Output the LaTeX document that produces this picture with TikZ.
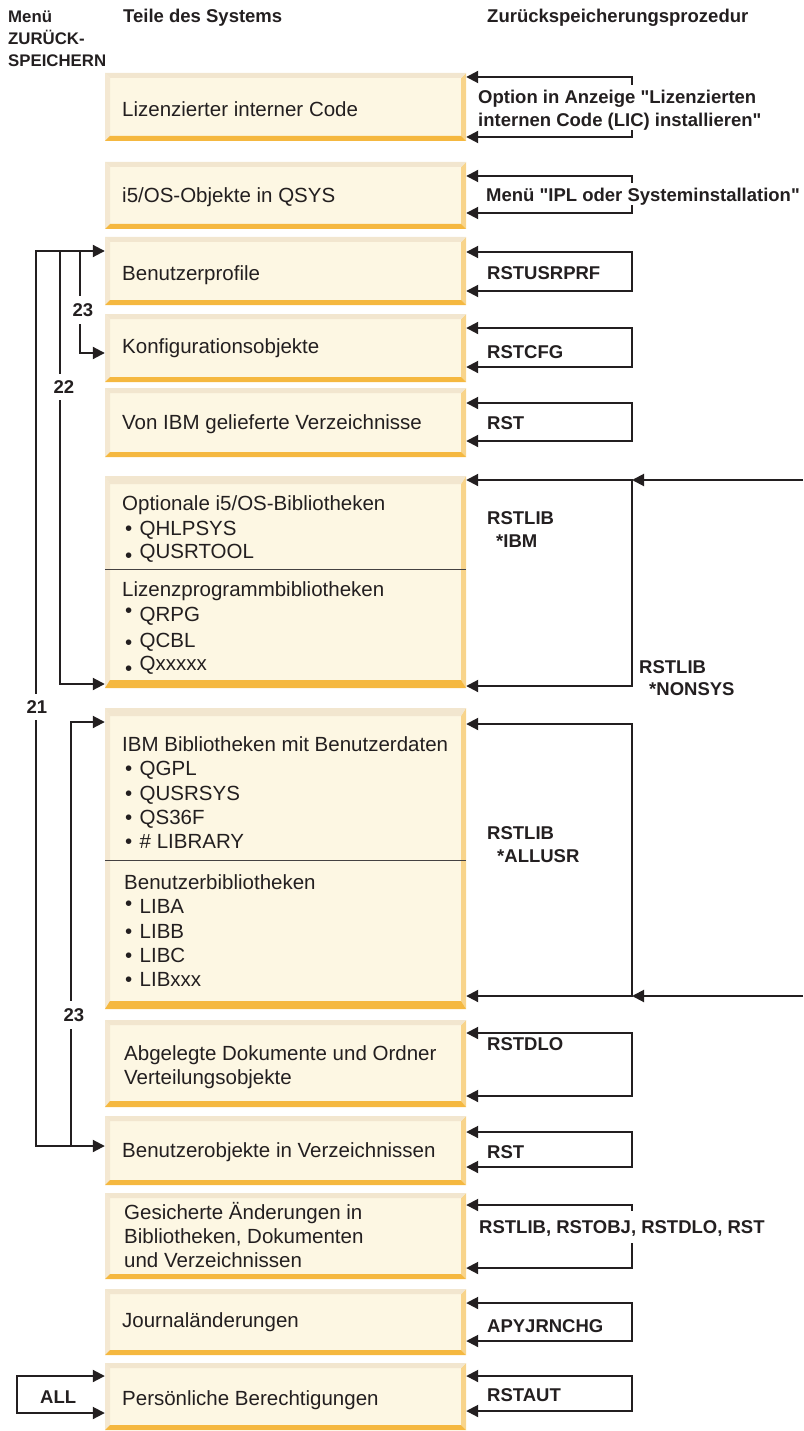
\documentclass[tikz,border=0pt]{standalone}
\usepackage{fontspec}
\setmainfont{Liberation Sans}[Ligatures=TeXOff]
\usetikzlibrary{arrows.meta}

\definecolor{ink}{HTML}{231F20}
\definecolor{boxfill}{HTML}{FDF7E3}
\definecolor{bevtop}{HTML}{F2E6CF}
\definecolor{bevleft}{HTML}{F4E8D2}
\definecolor{bevright}{HTML}{F8D48B}
\definecolor{bevbot}{HTML}{F5B840}

% straight double quote
\newcommand\dq{\symbol{34}}
% bullet item: dot (optionally raised) followed by the entry
\newcommand\itm[2]{\makebox[14.5pt][l]{\raisebox{#1}{\textbullet}}#2}

\tikzset{
  bevel top/.store in=\bevTop, bevel top=5pt,
  bevel bottom/.store in=\bevBot, bevel bottom=5pt,
  stage/.style={rectangle, inner sep=0pt, minimum width=361pt, minimum height=#1,
    fill=boxfill,
    path picture={
      \fill[bevleft] (path picture bounding box.north west) -- (path picture bounding box.south west)
        -- ([xshift=5pt,yshift=\bevBot]path picture bounding box.south west)
        -- ([xshift=5pt,yshift=-\bevTop]path picture bounding box.north west) -- cycle;
      \fill[bevright] (path picture bounding box.north east) -- (path picture bounding box.south east)
        -- ([xshift=-5pt,yshift=\bevBot]path picture bounding box.south east)
        -- ([xshift=-5pt,yshift=-\bevTop]path picture bounding box.north east) -- cycle;
      \fill[bevtop] (path picture bounding box.north west) -- (path picture bounding box.north east)
        -- ([xshift=-5pt,yshift=-\bevTop]path picture bounding box.north east)
        -- ([xshift=5pt,yshift=-\bevTop]path picture bounding box.north west) -- cycle;
      \fill[bevbot] (path picture bounding box.south west) -- (path picture bounding box.south east)
        -- ([xshift=-5pt,yshift=\bevBot]path picture bounding box.south east)
        -- ([xshift=5pt,yshift=\bevBot]path picture bounding box.south west) -- cycle;
    }},
  boxtxt/.style={anchor=base west, inner sep=0pt, text=ink,
    font=\fontsize{20.5}{24}\selectfont},
  lbl/.style={anchor=base west, inner sep=0pt, text=ink,
    font=\fontsize{18.5}{22}\bfseries\selectfont},
  menuhead/.style={lbl, font=\fontsize{16.8}{20}\bfseries\selectfont},
  num/.style={fill=white, inner xsep=1pt, inner ysep=7pt, text=ink,
    font=\fontsize{18.5}{22}\bfseries\selectfont},
  conn/.style={draw=ink, line width=2pt},
  >={Triangle[length=12pt,width=12pt]},
  divider/.style={draw=ink!85, line width=0.9pt},
}

\begin{document}
\begin{tikzpicture}[x=1pt,y=-1pt]
\useasboundingbox (0,0) rectangle (803,1431);

% column headings
\node[menuhead] (h1a) at (8,23) {Menü};
\node[menuhead] (h1b) at (8,45) {ZURÜCK-};
\node[menuhead] (h1c) at (8,67) {SPEICHERN};
\node[lbl] (h2) at (123,23) {Teile des Systems};
\node[lbl] (h3) at (487,23) {Zurückspeicherungsprozedur};

% system parts
\node[stage=68pt] (b1) at (285.5,107) {};
\node[stage=67pt] (b2) at (285.5,195.5) {};
\node[stage=68pt] (b3) at (285.5,271) {};
\node[stage=68pt] (b4) at (285.5,348) {};
\node[stage=69pt] (b5) at (285.5,422.5) {};
\node[stage=212pt, bevel top=8pt, bevel bottom=8pt] (b6) at (285.5,582) {};
\node[stage=301pt, bevel top=8pt, bevel bottom=8pt] (b7) at (285.5,858.5) {};
\node[stage=87pt, bevel bottom=6pt] (b8) at (285.5,1063.5) {};
\node[stage=69pt] (b9) at (285.5,1150.5) {};
\node[stage=86pt] (b10) at (285.5,1236) {};
\node[stage=66pt] (b11) at (285.5,1322) {};
\node[stage=67pt] (b12) at (285.5,1396.5) {};

\coordinate (d6) at (0,569);
\coordinate (d7) at (0,860);
\draw[divider] (b6.west |- d6) -- (b6.east |- d6);
\draw[divider] (b7.west |- d7) -- (b7.east |- d7);

% texts of the parts
\node[boxtxt] (t1) at (122,116.5) {Lizenzierter interner Code};
\node[boxtxt] (t2) at (122,202.5) {i5/OS-Objekte in QSYS};
\node[boxtxt] (t3) at (122,280.5) {Benutzerprofile};
\node[boxtxt] (t4) at (122,353.5) {Konfigurationsobjekte};
\node[boxtxt] (t5) at (122,429.5) {Von IBM gelieferte Verzeichnisse};

\node[boxtxt] (t6a) at (122,510.5) {Optionale i5/OS-Bibliotheken};
\node[boxtxt] (t6b) at (125,535.5) {\itm{0pt}{QHLPSYS}};
\node[boxtxt] (t6c) at (125,558.5) {\itm{-4pt}{QUSRTOOL}};
\node[boxtxt] (t6d) at (122,596.5) {Lizenzprogrammbibliotheken};
\node[boxtxt] (t6e) at (125,621.5) {\itm{4pt}{QRPG}};
\node[boxtxt] (t6f) at (125,647.5) {\itm{-1.5pt}{QCBL}};
\node[boxtxt] (t6g) at (125,670.5) {\itm{-5pt}{Qxxxxx}};

\node[boxtxt] (t7a) at (122,751.5) {IBM Bibliotheken mit Benutzerdaten};
\node[boxtxt] (t7b) at (125,775.5) {\itm{0pt}{QGPL}};
\node[boxtxt] (t7c) at (125,800) {\itm{0pt}{QUSRSYS}};
\node[boxtxt] (t7d) at (125,824) {\itm{0pt}{QS36F}};
\node[boxtxt] (t7e) at (125,848) {\itm{0pt}{\# LIBRARY}};
\node[boxtxt] (t7f) at (124,889.5) {Benutzerbibliotheken};
\node[boxtxt] (t7g) at (125,913.5) {\itm{3pt}{LIBA}};
\node[boxtxt] (t7h) at (125,938) {\itm{0pt}{LIBB}};
\node[boxtxt] (t7i) at (125,962) {\itm{0pt}{LIBC}};
\node[boxtxt] (t7j) at (125,986) {\itm{0pt}{LIBxxx}};

\node[boxtxt] (t8a) at (124,1060.5) {Abgelegte Dokumente und Ordner};
\node[boxtxt] (t8b) at (124,1084.5) {Verteilungsobjekte};
\node[boxtxt] (t9) at (122,1157.5) {Benutzerobjekte in Verzeichnissen};
\node[boxtxt] (t10a) at (124,1219.5) {Gesicherte Änderungen in};
\node[boxtxt] (t10b) at (124,1243.5) {Bibliotheken, Dokumenten};
\node[boxtxt] (t10c) at (124,1267.5) {und Verzeichnissen};
\node[boxtxt] (t11) at (122,1327.5) {Journaländerungen};
\node[boxtxt] (t12) at (122,1405.5) {Persönliche Berechtigungen};

% restore procedures (right side)
\coordinate (r1a) at (632,77);   \coordinate (r1ag) at (632,85);
\coordinate (r1b) at (632,137);  \coordinate (r1bg) at (632,130);
\coordinate (r2a) at (632,176);  \coordinate (r2ag) at (632,183);
\coordinate (r2b) at (632,213);  \coordinate (r2bg) at (632,205);
\coordinate (r3a) at (632,252);  \coordinate (r3b) at (632,291);
\coordinate (r4a) at (632,328);  \coordinate (r4b) at (632,367);
\coordinate (r5a) at (632,403);  \coordinate (r5b) at (632,441);
\coordinate (r6a) at (632,480);  \coordinate (r6b) at (632,686);
\coordinate (r7a) at (632,724);  \coordinate (r7b) at (632,996);
\coordinate (r8a) at (632,1033); \coordinate (r8b) at (632,1096);
\coordinate (r9a) at (632,1132); \coordinate (r9b) at (632,1167);
\coordinate (r10a) at (632,1205); \coordinate (r10ag) at (632,1211);
\coordinate (r10b) at (632,1268); \coordinate (r10bg) at (632,1243);
\coordinate (r11a) at (632,1303); \coordinate (r11b) at (632,1341);
\coordinate (r12a) at (632,1376); \coordinate (r12b) at (632,1411);
\coordinate (e6) at (803,480);
\coordinate (e7) at (803,996);

\draw[conn,<-] (b1.east |- r1a) -- (r1a) -- (r1ag);
\draw[conn,<-] (b1.east |- r1b) -- (r1b) -- (r1bg);
\draw[conn,<-] (b2.east |- r2a) -- (r2a) -- (r2ag);
\draw[conn,<-] (b2.east |- r2b) -- (r2b) -- (r2bg);
\draw[conn,<->] (b3.east |- r3a) -- (r3a) -- (r3b) -- (b3.east |- r3b);
\draw[conn,<->] (b4.east |- r4a) -- (r4a) -- (r4b) -- (b4.east |- r4b);
\draw[conn,<->] (b5.east |- r5a) -- (r5a) -- (r5b) -- (b5.east |- r5b);
\draw[conn,<->] (b6.east |- r6a) -- (r6a) -- (r6b) -- (b6.east |- r6b);
\draw[conn,<->] (b7.east |- r7a) -- (r7a) -- (r7b) -- (b7.east |- r7b);
\draw[conn,<->] (b8.east |- r8a) -- (r8a) -- (r8b) -- (b8.east |- r8b);
\draw[conn,<->] (b9.east |- r9a) -- (r9a) -- (r9b) -- (b9.east |- r9b);
\draw[conn,<-] (b10.east |- r10a) -- (r10a) -- (r10ag);
\draw[conn,<-] (b10.east |- r10b) -- (r10b) -- (r10bg);
\draw[conn,<->] (b11.east |- r11a) -- (r11a) -- (r11b) -- (b11.east |- r11b);
\draw[conn,<->] (b12.east |- r12a) -- (r12a) -- (r12b) -- (b12.east |- r12b);
\draw[conn,->] (e6) -- (r6a);
\draw[conn,->] (e7) -- (r7b);

\node[lbl] (p1a) at (478,103.5) {Option in Anzeige \dq Lizenzierten};
\node[lbl] (p1b) at (478,126.5) {internen Code (LIC) installieren\dq};
\node[lbl] (p2) at (486,201.5) {Menü \dq IPL oder Systeminstallation\dq};
\node[lbl] (p3) at (487,279.5) {RSTUSRPRF};
\node[lbl] (p4) at (487,358.5) {RSTCFG};
\node[lbl] (p5) at (487,429.5) {RST};
\node[lbl] (p6a) at (487,524.5) {RSTLIB};
\node[lbl] (p6b) at (496,547.5) {*IBM};
\node[lbl] (p6c) at (639,673.5) {RSTLIB};
\node[lbl] (p6d) at (649,695.5) {*NONSYS};
\node[lbl] (p7a) at (487,839.5) {RSTLIB};
\node[lbl] (p7b) at (497,862.5) {*ALLUSR};
\node[lbl] (p8) at (487,1050.5) {RSTDLO};
\node[lbl] (p9) at (487,1158.5) {RST};
\node[lbl] (p10) at (479,1233.5) {RSTLIB, RSTOBJ, RSTDLO, RST};
\node[lbl] (p11) at (487,1332.5) {APYJRNCHG};
\node[lbl] (p12) at (487,1401.5) {RSTAUT};

% restore menu options (left side)
\coordinate (L21a) at (36,251);  \coordinate (L21b) at (36,1146);
\coordinate (L22a) at (60,251);  \coordinate (L22b) at (60,684);
\coordinate (L23a) at (80,251);  \coordinate (L23b) at (80,353);
\coordinate (L23c) at (71,722);  \coordinate (L23d) at (71,1146);
\coordinate (A1) at (17,1376);   \coordinate (A2) at (17,1413);

\draw[conn,<->] (b3.west |- L21a) -- (L21a) -- (L21b) -- (b9.west |- L21b);
\draw[conn,->] (L22a) -- (L22b) -- (b6.west |- L22b);
\draw[conn,->] (L23a) -- (L23b) -- (b4.west |- L23b);
\draw[conn,<-] (b7.west |- L23c) -- (L23c) -- (L23d);
\draw[conn,<->] (b12.west |- A1) -- (A1) -- (A2) -- (b12.west |- A2);

\node[num] (n23a) at (83,310) {23};
\node[num] (n22) at (64,387) {22};
\node[num] (n21) at (37,707) {21};
\node[num] (n23b) at (74,1015) {23};
\node[lbl] (nall) at (40,1403) {ALL};

\end{tikzpicture}
\end{document}
